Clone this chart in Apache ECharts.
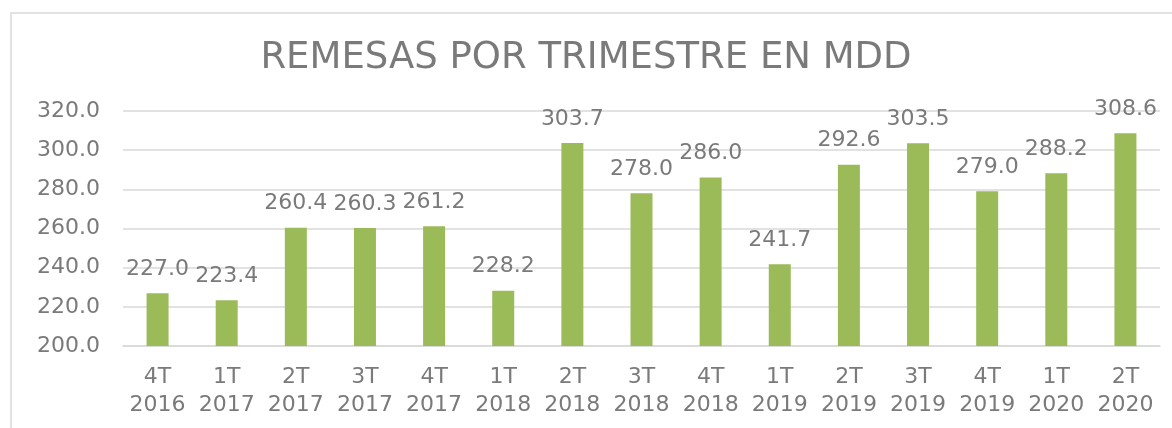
<!DOCTYPE html>
<html>
<head>
<meta charset="utf-8">
<script src="https://cdn.jsdelivr.net/npm/echarts@6/dist/echarts.min.js"></script>
<style>
  html, body { margin: 0; padding: 0; background: #fff; }
  #chart { width: 1172px; height: 428px; }
</style>
</head>
<body>
<div id="chart"></div>
<script>
// datos: remesas trimestrales (millones de dólares)
var trimestres = ['4T\n2016', '1T\n2017', '2T\n2017', '3T\n2017', '4T\n2017', '1T\n2018', '2T\n2018', '3T\n2018',
                  '4T\n2018', '1T\n2019', '2T\n2019', '3T\n2019', '4T\n2019', '1T\n2020', '2T\n2020'];
var remesas = [227.0, 223.4, 260.4, 260.3, 261.2, 228.2, 303.7, 278.0, 286.0, 241.7, 292.6, 303.5, 279.0, 288.2, 308.6];

var gris = '#7a7a7a';
var fuente = 'DejaVu Sans';

var myChart = echarts.init(document.getElementById('chart'));
var option = {
    animation: false,
    title: {
        text: 'REMESAS POR TRIMESTRE EN MDD',
        left: 'center',
        top: 35,
        textStyle: { color: gris, fontSize: 37, fontWeight: 'normal', fontFamily: fuente }
    },
    graphic: [{
        type: 'rect',
        shape: { x: 11, y: 13, width: 1200, height: 500 },
        style: { fill: 'none', stroke: '#d9d9d9', lineWidth: 1.5 },
        silent: true
    }],
    grid: { left: 123, right: 12, top: 111, bottom: 82 },
    xAxis: {
        type: 'category',
        data: trimestres,
        axisLine: { lineStyle: { color: '#d9d9d9', width: 1.5 } },
        axisTick: { show: false },
        axisLabel: { color: gris, fontSize: 22, fontFamily: fuente, lineHeight: 28, margin: 17, interval: 0 }
    },
    yAxis: {
        type: 'value',
        min: 200,
        max: 320,
        interval: 20,
        axisLine: { show: false },
        axisTick: { show: false },
        splitLine: { lineStyle: { color: '#d9d9d9', width: 1.5 } },
        axisLabel: {
            color: gris, fontSize: 22, fontFamily: fuente, margin: 23,
            formatter: function (v) { return v.toFixed(1); }
        }
    },
    series: [{
        type: 'bar',
        data: remesas,
        barWidth: 22,
        itemStyle: { color: '#9bbb59' },
        label: {
            show: true,
            position: 'top',
            distance: 13,
            color: gris,
            fontSize: 22,
            fontFamily: fuente,
            formatter: function (p) { return p.value.toFixed(1); }
        }
    }]
};
myChart.setOption(option);
</script>
</body>
</html>
